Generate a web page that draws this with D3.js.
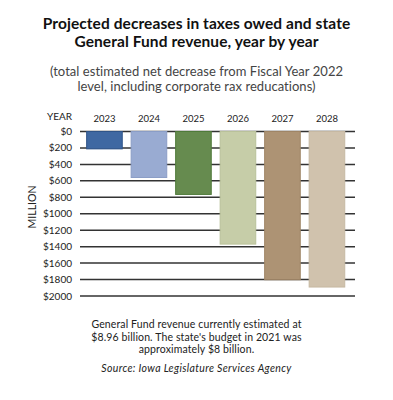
<!DOCTYPE html>
<html>
<head>
<meta charset="utf-8">
<script src="https://cdn.jsdelivr.net/npm/d3@7"></script>
<style>
  body { margin: 0; background: #fff; }
  text { font-family: Lato, "Open Sans", sans-serif; }
</style>
</head>
<body>
<div class="chart"></div>
<script>
// values in millions of dollars
const years = ["2023", "2024", "2025", "2026", "2027", "2028"];
const decreases = [211, 559, 765, 1369, 1802, 1891];
const barColors = ["#3f68a2", "#99abd2", "#668b4f", "#c6cda8", "#ad9374", "#d0c2ad"];
const barStrokes = ["#2f5488", "#8a9dc6", "#4f7a3a", "#b9c19a", "#9f8566", "#c6b8a2"];
const yTicks = [0, 200, 400, 600, 800, 1000, 1200, 1400, 1600, 1800, 2000];

const width = 393, height = 400;
const svg = d3.select("div.chart").append("svg")
    .attr("width", width)
    .attr("height", height);

// title + subtitle
const title = ["Projected decreases in taxes owed and state", "General Fund revenue, year by year"];
svg.append("g").selectAll("text")
    .data(title)
    .enter().append("text")
    .attr("x", width / 2)
    .attr("y", (d, i) => 28.5 + i * 18)
    .attr("text-anchor", "middle")
    .attr("font-size", 15.5)
    .attr("font-weight", "bold")
    .attr("letter-spacing", 0.08)
    .attr("fill", "#111")
    .text(d => d);

const sub = ["(total estimated net decrease from Fiscal Year 2022", "level, including corporate rax reducations)"];
svg.append("g").selectAll("text")
    .data(sub)
    .enter().append("text")
    .attr("x", width / 2)
    .attr("y", (d, i) => 75.5 + i * 15)
    .attr("text-anchor", "middle")
    .attr("font-size", 13)
    .attr("letter-spacing", 0.04)
    .attr("fill", "#444")
    .text(d => d);

let x = d3.scaleBand().domain(years).range([82.2, 349.2]).paddingInner(0.2).paddingOuter(0.1);
let y = d3.scaleLinear().domain([0, 2000]).range([131.5, 296]);

// gridlines
svg.append("g").selectAll("line")
    .data(yTicks)
    .enter().append("line")
    .attr("x1", 80).attr("x2", 355)
    .attr("y1", d => y(d)).attr("y2", d => y(d))
    .attr("stroke", "#333")
    .attr("stroke-width", 1.5);

// y labels
svg.append("g").selectAll("text")
    .data(yTicks)
    .enter().append("text")
    .attr("x", 72)
    .attr("y", d => y(d) + 3.5)
    .attr("text-anchor", "end")
    .attr("font-size", 10)
    .attr("fill", "#222")
    .text(d => "$" + d);

svg.append("text")
    .attr("x", 72).attr("y", 119.5)
    .attr("text-anchor", "end")
    .attr("font-size", 10)
    .attr("fill", "#222")
    .text("YEAR");

svg.append("text")
    .attr("transform", "translate(36,207) rotate(-90)")
    .attr("text-anchor", "middle")
    .attr("font-size", 10.5)
    .attr("fill", "#222")
    .text("MILLION");

// year labels
svg.append("g").selectAll("text")
    .data(years)
    .enter().append("text")
    .attr("x", d => x(d) + x.bandwidth() / 2)
    .attr("y", 122)
    .attr("text-anchor", "middle")
    .attr("font-size", 9.5)
    .attr("fill", "#222")
    .text(d => d);

// bars
svg.append("g").selectAll("rect")
    .data(decreases)
    .enter().append("rect")
    .attr("x", (d, i) => x(years[i]))
    .attr("y", y(0))
    .attr("width", x.bandwidth())
    .attr("height", d => y(d) - y(0))
    .attr("fill", (d, i) => barColors[i])
    .attr("stroke", (d, i) => barStrokes[i])
    .attr("stroke-width", 1);

// footer
const note = ["General Fund revenue currently estimated at", "$8.96 billion. The state's budget in 2021 was", "approximately $8 billion."];
svg.append("g").selectAll("text")
    .data(note)
    .enter().append("text")
    .attr("x", width / 2)
    .attr("y", (d, i) => 328 + i * 12.7)
    .attr("text-anchor", "middle")
    .attr("font-size", 10.5)
    .attr("letter-spacing", 0.12)
    .attr("fill", "#222")
    .text(d => d);

svg.append("text")
    .attr("x", width / 2)
    .attr("y", 372)
    .attr("text-anchor", "middle")
    .attr("font-size", 10.5)
    .attr("font-style", "italic")
    .attr("letter-spacing", 0.35)
    .attr("fill", "#222")
    .text("Source: Iowa Legislature Services Agency");
</script>
</body>
</html>
